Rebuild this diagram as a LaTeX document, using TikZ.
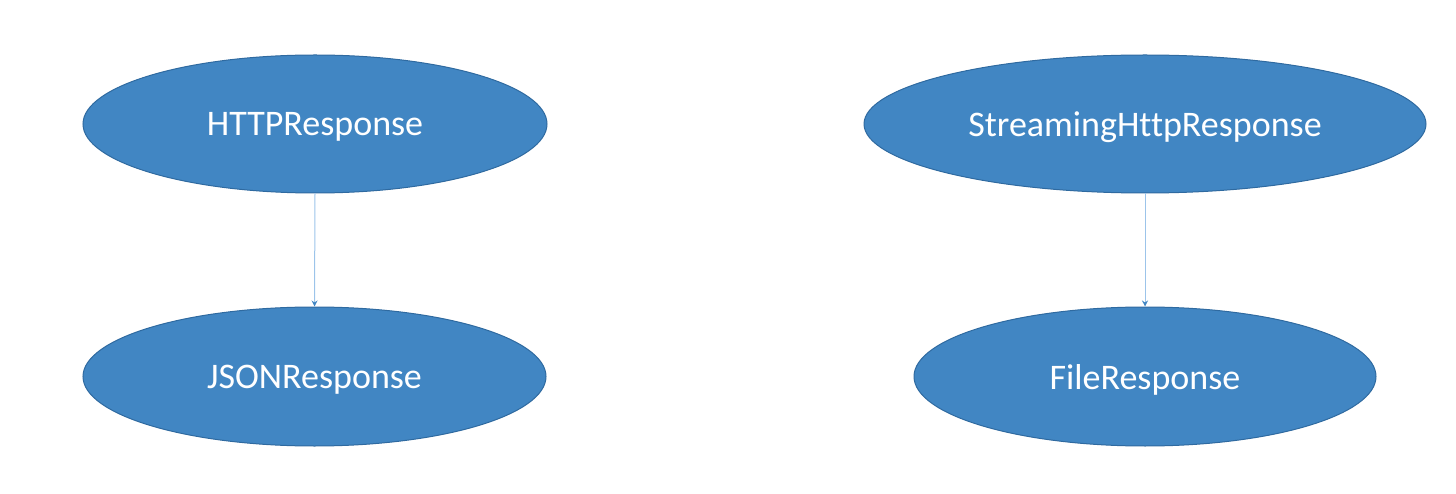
\documentclass[tikz,border=0pt]{standalone}
\usepackage{fontspec}
\setmainfont{Carlito}[Ligatures=NoCommon]
\usetikzlibrary{shapes.geometric,arrows.meta}
\definecolor{fillblue}{HTML}{4186C3}
\definecolor{edgeblue}{HTML}{2F6AA0}
\definecolor{linkblue}{HTML}{9CC4EA}
\tikzset{
  oval/.style={ellipse, draw=edgeblue, line width=1pt, fill=fillblue, text=white,
    inner sep=0pt, font=\fontsize{36}{42}\selectfont},
  lbl/.style={text=white, inner sep=0pt, font=\fontsize{36}{42}\selectfont},
  link/.style={draw=linkblue, line width=1pt, -{Stealth[length=6pt,width=6pt,color=fillblue]}}
}
\begin{document}
\begin{tikzpicture}[x=1pt,y=-1pt]
\useasboundingbox (0,0) rectangle (1456,494);
\node[oval, minimum width=464pt, minimum height=138pt] (http) at (315,124) {};
\node[oval, minimum width=463pt, minimum height=139pt] (json) at (314.5,376.5) {};
\node[oval, minimum width=562pt, minimum height=138pt] (stream) at (1145,124) {};
\node[oval, minimum width=462pt, minimum height=139pt] (file) at (1145,376.5) {};
\node[lbl, yshift=-3pt] (httpt) at (http) {HTTPResponse};
\node[lbl, yshift=-3pt] (jsont) at (json) {JSONResponse};
\node[lbl, yshift=-3pt] (streamt) at (stream) {StreamingHttpResponse};
\node[lbl, yshift=-3pt] (filet) at (file) {FileResponse};
\draw[link] (http.south) -- (json.north);
\draw[link] (stream.south) -- (file.north);
\end{tikzpicture}
\end{document}
